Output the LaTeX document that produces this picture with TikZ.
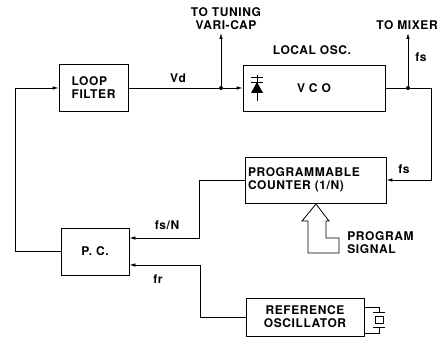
\documentclass[tikz,border=0pt]{standalone}
\usepackage{fontspec}
\setmainfont{TeX Gyre Heros}[LetterSpace=5]
\usetikzlibrary{arrows.meta}
\usetikzlibrary{positioning}
\tikzset{block/.style = {draw, inner sep=0pt, align=center},
         sig/.style = {-{Latex[length=6pt,width=3.5pt]}},
         lbl/.style = {inner sep=1pt},
         dot/.style = {circle, fill, inner sep=0pt, minimum size=4pt},
         every node/.style = {font=\fontsize{12}{13}\selectfont\bfseries}}

\begin{document}
\begin{tikzpicture}[x=1pt, y=-1pt, line width=0.8pt]
      \useasboundingbox (0,0) rectangle (440,344);

      \node [block, align=left, minimum width=69pt, minimum height=47pt] (filter) at (93.5,88) {LOOP\\FILTER};
      \node [block, minimum width=142pt, minimum height=46pt] (vco) at (314,88) {V C O};
      \node [block, align=left, text width=135pt, inner xsep=3pt, minimum height=46pt] (counter) at (315.5,180) {PROGRAMMABLE\\COUNTER (1/N)};
      \node [block, minimum width=68pt, minimum height=47pt] (pc) at (95,251.5) {P. C.};
      \node [block, minimum width=118pt, minimum height=38pt] (refosc) at (305,317) {REFERENCE\\OSCILLATOR};

      \node [dot] (jv) at (221,88) {};
      \node [dot] (jm) at (408,88) {};
      \coordinate (tune) at (221,33);
      \coordinate (mix) at (408,33);
      \coordinate (rturn) at (431,88);
      \coordinate (cbend) at (199,238);
      \coordinate (rbend) at (200,265);
      \coordinate (lturn) at (15,251.5);

      \draw (filter.east) -- (jv);
      \draw [sig] (jv) -- (vco.west);
      \draw [sig] (jv) -- (tune);
      \draw (vco.east) -- (jm);
      \draw [sig] (jm) -- (mix);
      \draw [sig] (jm) -- (rturn) |- (counter.east);
      \draw [sig] (counter.west) -| (cbend) -- (cbend -| pc.east);
      \draw [sig] (refosc.west) -| (rbend) -- (rbend -| pc.east);
      \draw [sig] (pc.west) -- (lturn) |- (filter.west);

      \node [lbl] (vd) at (178,78) {Vd};
      \node [lbl, align=center] (tunetxt) at (226,19) {TO TUNING\\VARI-CAP};
      \node [lbl] (osc) at (312,50) {LOCAL OSC.};
      \node [lbl] (mixtxt) at (407,25) {TO MIXER};
      \node [lbl] (fs1) at (421,57) {fs};
      \node [lbl] (fs2) at (404,169) {fs};
      \node [lbl] (fsn) at (167,225) {fs/N};
      \node [lbl] (fr) at (158,279) {fr};
      \node [lbl, align=left, anchor=west] (prog) at (346,243) {PROGRAM\\SIGNAL};

      % varicap in the vco
      \begin{scope}[shift={(257,88)}]
        \draw (0,-13) -- (0,13);
        \draw (-6,-11) -- (6,-11);
        \draw (-6,-6) -- (6,-6);
        \fill (0,-6) -- (-6,5) -- (6,5) -- cycle;
      \end{scope}

      % crystal
      \begin{scope}[shift={(refosc.east)}]
        \draw (0,-10) -- (15,-10) -- (15,-5);
        \draw (9,-5) -- (21,-5);
        \draw (11,-1) rectangle (19,6);
        \draw (9,10) -- (21,10);
        \draw (15,10) -- (15,16) -- (0,16);
      \end{scope}

      % program signal arrow
      \draw (316,204) -- (329,221) -- (326,221) -- (326,238) -- (339,238)
            -- (339,253) -- (308,253) -- (308,221) -- (302,221) -- cycle;
    \end{tikzpicture}
\end{document}
